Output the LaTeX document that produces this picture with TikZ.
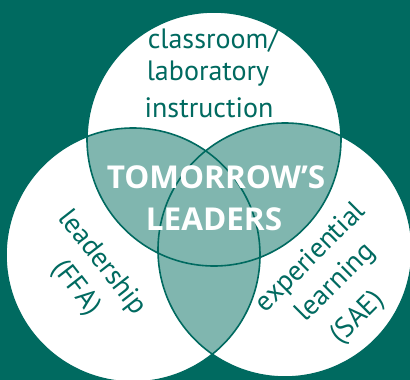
\documentclass[tikz,border=0pt]{standalone}
\usepackage{fontspec}
\setmainfont{PT Sans}
\newfontfamily\bigfont{Open Sans}
\definecolor{bg}{RGB}{0,106,96}
\definecolor{lt}{RGB}{128,182,175}
\begin{document}
\begin{tikzpicture}[x=1pt,y=-1pt,
  ring/.style={draw=bg, line width=1.6pt},
  lbl/.style={text=bg, font=\fontsize{28}{32}\selectfont, inner sep=0pt},
  big/.style={text=white, font=\bigfont\bfseries\fontsize{31.5}{38}\selectfont, inner sep=0pt}]
\useasboundingbox (0,0) rectangle (410,380);
\fill[bg] (0,0) rectangle (410,380);
\def\CT{(214,139) circle[radius=127pt]}
\def\CL{(133,255) circle[radius=127pt]}
\def\CR{(285,250) circle[radius=127pt]}
\fill[white] \CT; \fill[white] \CL; \fill[white] \CR;
\begin{scope}\clip \CT; \fill[lt] \CL; \fill[lt] \CR; \end{scope}
\begin{scope}\clip \CL; \fill[lt] \CR; \end{scope}
\draw[ring] \CT; \draw[ring] \CL; \draw[ring] \CR;
% top label
\node[lbl, anchor=base] (t1) at (213,48) {classroom/};
\node[lbl, anchor=base] (t2) at (208,80) {laboratory};
\node[lbl, anchor=base] (t3) at (209,117) {instruction};
% center
\node[big, anchor=base] (c1) at (216,188) {TOMORROW’S};
\node[big, anchor=base] (c2) at (214,230) {LEADERS};
% left label
\node[lbl, rotate=-52] (l1) at (102,263) {leadership};
\node[lbl, rotate=-52] (l2) at (76,288) {(FFA)};
% right label
\node[lbl, rotate=45] (r1) at (311,258) {experiential};
\node[lbl, rotate=45] (r2) at (336,283) {learning};
\node[lbl, rotate=45] (r3) at (358,318) {(SAE)};
\end{tikzpicture}
\end{document}
